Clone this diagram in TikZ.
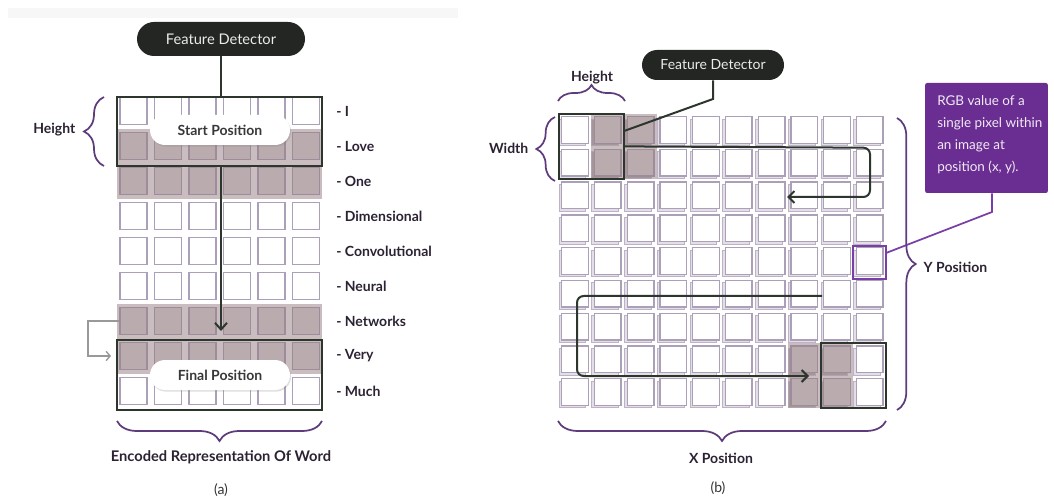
\documentclass[tikz,border=0pt]{standalone}
\usepackage{fontspec}
\setmainfont{Lato}
\usetikzlibrary{shapes.misc,decorations.pathreplacing,arrows.meta,shadows,calc}
\definecolor{pilldark}{HTML}{232623}
\definecolor{boxline}{HTML}{2C362C}
\definecolor{bracecol}{HTML}{5E3C7C}
\definecolor{labcol}{HTML}{2C2233}
\definecolor{cellborder}{HTML}{ACA0B8}
\definecolor{band}{HTML}{C9BDC0}
\definecolor{shcell}{HTML}{BAABAE}
\definecolor{shborder}{HTML}{9E8C9A}
\definecolor{backsq}{HTML}{E4DEE8}
\definecolor{backsqb}{HTML}{BDB3C6}
\definecolor{calloutcol}{HTML}{6A2D92}
\definecolor{hlcol}{HTML}{7A3FA6}
\begin{document}
\begin{tikzpicture}[x=0.75pt,y=-0.75pt,
  font=\fontsize{10}{12}\selectfont,
  cellA/.style={draw=cellborder,fill=white,line width=1.2pt,minimum size=20.25pt,inner sep=0pt},
  cellAs/.style={draw=shborder,fill=shcell,line width=1.2pt,minimum size=20.25pt,inner sep=0pt},
  cellB/.style={draw=cellborder,fill=white,line width=1pt,minimum size=20pt,inner sep=0pt},
  cellBback/.style={draw=backsqb,fill=backsq,line width=0.8pt,minimum size=20pt,inner sep=0pt},
  cellBs/.style={draw=shborder,fill=shcell,line width=1pt,minimum size=20pt,inner sep=0pt},
  cellBsback/.style={draw=shborder!80,fill=shcell!88!black,line width=0.8pt,minimum size=20pt,inner sep=0pt},
  fbox/.style={draw=boxline,line width=1.6pt,inner sep=0pt},
  fdpill/.style={rounded rectangle,fill=pilldark,text=white!92!black,inner sep=0pt,font=\fontsize{11}{13}\selectfont},
  pospill/.style={rounded rectangle,fill=white,text=black!78,font=\fontsize{10.5}{12}\selectfont\bfseries,
     minimum width=105pt,minimum height=22.5pt,inner sep=0pt,
     drop shadow={opacity=0.25,shadow xshift=0.8pt,shadow yshift=-1.2pt}},
  track/.style={draw=boxline,line width=1.5pt},
  brc/.style={draw=bracecol,line width=1.3pt,decorate,decoration={brace,amplitude=15pt}},
  lab/.style={text=labcol,font=\fontsize{10.5}{12}\selectfont\bfseries},
  word/.style={text=labcol,font=\fontsize{10.5}{12}\selectfont\bfseries,anchor=west,inner sep=0pt},
  captext/.style={text=black!80,font=\fontsize{10.5}{12}\selectfont}
]
\useasboundingbox (0,0) rectangle (1054,499);
\fill[black!3] (8,8) rectangle (458,18);

% ================= panel (a) =================
\foreach \r in {1,4,5,6,9}{
  \foreach \c in {1,...,6}{
    \node[cellA] (a-\r-\c) at ({133.5+34.5*(\c-1)},{111+35*(\r-1)}) {};
  }
}
\fill[band] (117,129) rectangle (322,199);
\fill[band] (117,304) rectangle (322,374);
\foreach \r in {2,3,7,8}{
  \foreach \c in {1,...,6}{
    \node[cellAs] (a-\r-\c) at ({133.5+34.5*(\c-1)},{111+35*(\r-1)}) {};
  }
}
\node[fbox,minimum width=153.75pt,minimum height=51.75pt] (startbox) at (219.5,131.5) {};
\node[fbox,minimum width=153.75pt,minimum height=52.5pt] (finalbox) at (219.5,375) {};

\node[fdpill,minimum width=126pt,minimum height=25.5pt] (fdA) at (221,39) {Feature Detector};
\coordinate (aend) at (221,331);
\draw[track] (fdA.south) -- (fdA.south |- startbox.north);
\draw[track,-{Straight Barb[length=5pt,width=9pt]}] (fdA.south |- startbox.south) -- (aend);

\node[pospill] (startpos) at (220,130) {Start Position};
\node[pospill] (finalpos) at (220,375) {Final Position};

\coordinate (lbend1) at (88,321);
\coordinate (lbend2) at (88,356);
\coordinate (lend) at (111,356);
\draw[black!40,line width=1pt,-{Straight Barb[length=3pt,width=7pt]}] (a-7-1.west) -- (lbend1) -- (lbend2) -- (lend);

\foreach \r/\w in {1/- I,2/- Love,3/- One,4/- Dimensional,5/- Convolutional,6/- Neural,7/- Networks,8/- Very,9/- Much}{
  \node[word] (w-\r) at (336,{111+35*(\r-1)}) {\w};
}

\draw[brc] (104,166) -- (104,97);
\node[lab,anchor=east] (hA) at (80,130) {Height};
\draw[brc] (322,421) -- (117,421);
\node[lab,font=\fontsize{11}{13}\selectfont\bfseries] (encA) at (221,457) {Encoded Representation Of Word};
\node[captext] (capa) at (221,490) {(a)};

% ================= panel (b) =================
\foreach \r in {1,...,9}{
  \foreach \c in {1,...,10}{
    \node[cellBback] (b-\r-\c-s) at ({575+32.75*(\c-1)-2.5},{130+32.75*(\r-1)+2.5}) {};
    \node[cellB] (b-\r-\c) at ({575+32.75*(\c-1)},{130+32.75*(\r-1)}) {};
  }
}
\fill[band] (591.4,113.6) rectangle (657,179.1);
\fill[band] (787.9,342.9) rectangle (853.4,408.4);
\foreach \r/\c in {1/2,1/3,2/2,2/3,8/8,8/9,9/8,9/9}{
  \node[cellBsback] (bs-\r-\c-s) at ({575+32.75*(\c-1)-2.5},{130+32.75*(\r-1)+2.5}) {};
  \node[cellBs] (bs-\r-\c) at ({575+32.75*(\c-1)},{130+32.75*(\r-1)}) {};
}
\node[fbox,minimum width=49.1pt,minimum height=49.1pt] (boxb1) at (591.4,146.4) {};
\node[fbox,minimum width=49.1pt,minimum height=49.1pt] (boxb2) at (853.4,375.6) {};
\node[draw=hlcol,line width=1.3pt,minimum width=24.5pt,minimum height=24.5pt,inner sep=0pt] (hl) at (869.5,262.5) {};

\node[fdpill,minimum width=106.5pt,minimum height=22.5pt,font=\fontsize{10.5}{12}\selectfont] (fdB) at (713,65) {Feature Detector};
\coordinate (fdbend) at (713,99);
\coordinate (fdbend2) at (624.1,131);
\draw[track] (fdB.south) -- (fdbend) -- (fdbend2);

\coordinate (p1a) at (870,147.7);
\coordinate (p1b) at (870,197);
\coordinate (p1end) at (787,197);
\draw[track,rounded corners=5pt,-{Straight Barb[length=4.5pt,width=9pt]}] (boxb1.east) -- (p1a) -- (p1b) -- (p1end);

\coordinate (p2start) at (822,296);
\coordinate (p2a) at (577,296);
\coordinate (p2b) at (577,376);
\coordinate (p2end) at (809,376);
\draw[track,rounded corners=5pt,-{Straight Barb[length=4.5pt,width=9pt]}] (p2start) -- (p2a) -- (p2b) -- (p2end);

\node[fill=calloutcol,rounded corners=1.5pt,minimum width=92pt,minimum height=82.5pt,inner sep=0pt] (callout) at (986.5,138) {};
\node[text=white!90!calloutcol,anchor=north west,align=left,inner sep=0pt,font=\fontsize{10.1}{16.6}\selectfont] (callouttext) at (937,95)
  {RGB value of a\\single pixel within\\an image at\\position (x, y).};
\coordinate (cbend) at (992,212);
\coordinate (cend) at (886,253);
\draw[draw=hlcol,line width=1.3pt] (callout.south -| cbend) -- (cbend) -- (cend);

\draw[brc,decoration={brace,amplitude=14pt}] (555,181) -- (555,117);
\node[lab,anchor=east] (wB) at (533,148) {Width};
\draw[brc,decoration={brace,amplitude=12pt}] (558,101) -- (625,101);
\node[lab] (hB) at (592,78) {Height};
\draw[brc,decoration={brace,amplitude=14pt}] (897,118) -- (897,410);
\node[lab,anchor=west] (yB) at (919,267) {Y Position};
\draw[brc] (886,421) -- (558,421);
\node[lab] (xB) at (721,458) {X Position};
\node[captext] (capb) at (718,488) {(b)};
\end{tikzpicture}
\end{document}
